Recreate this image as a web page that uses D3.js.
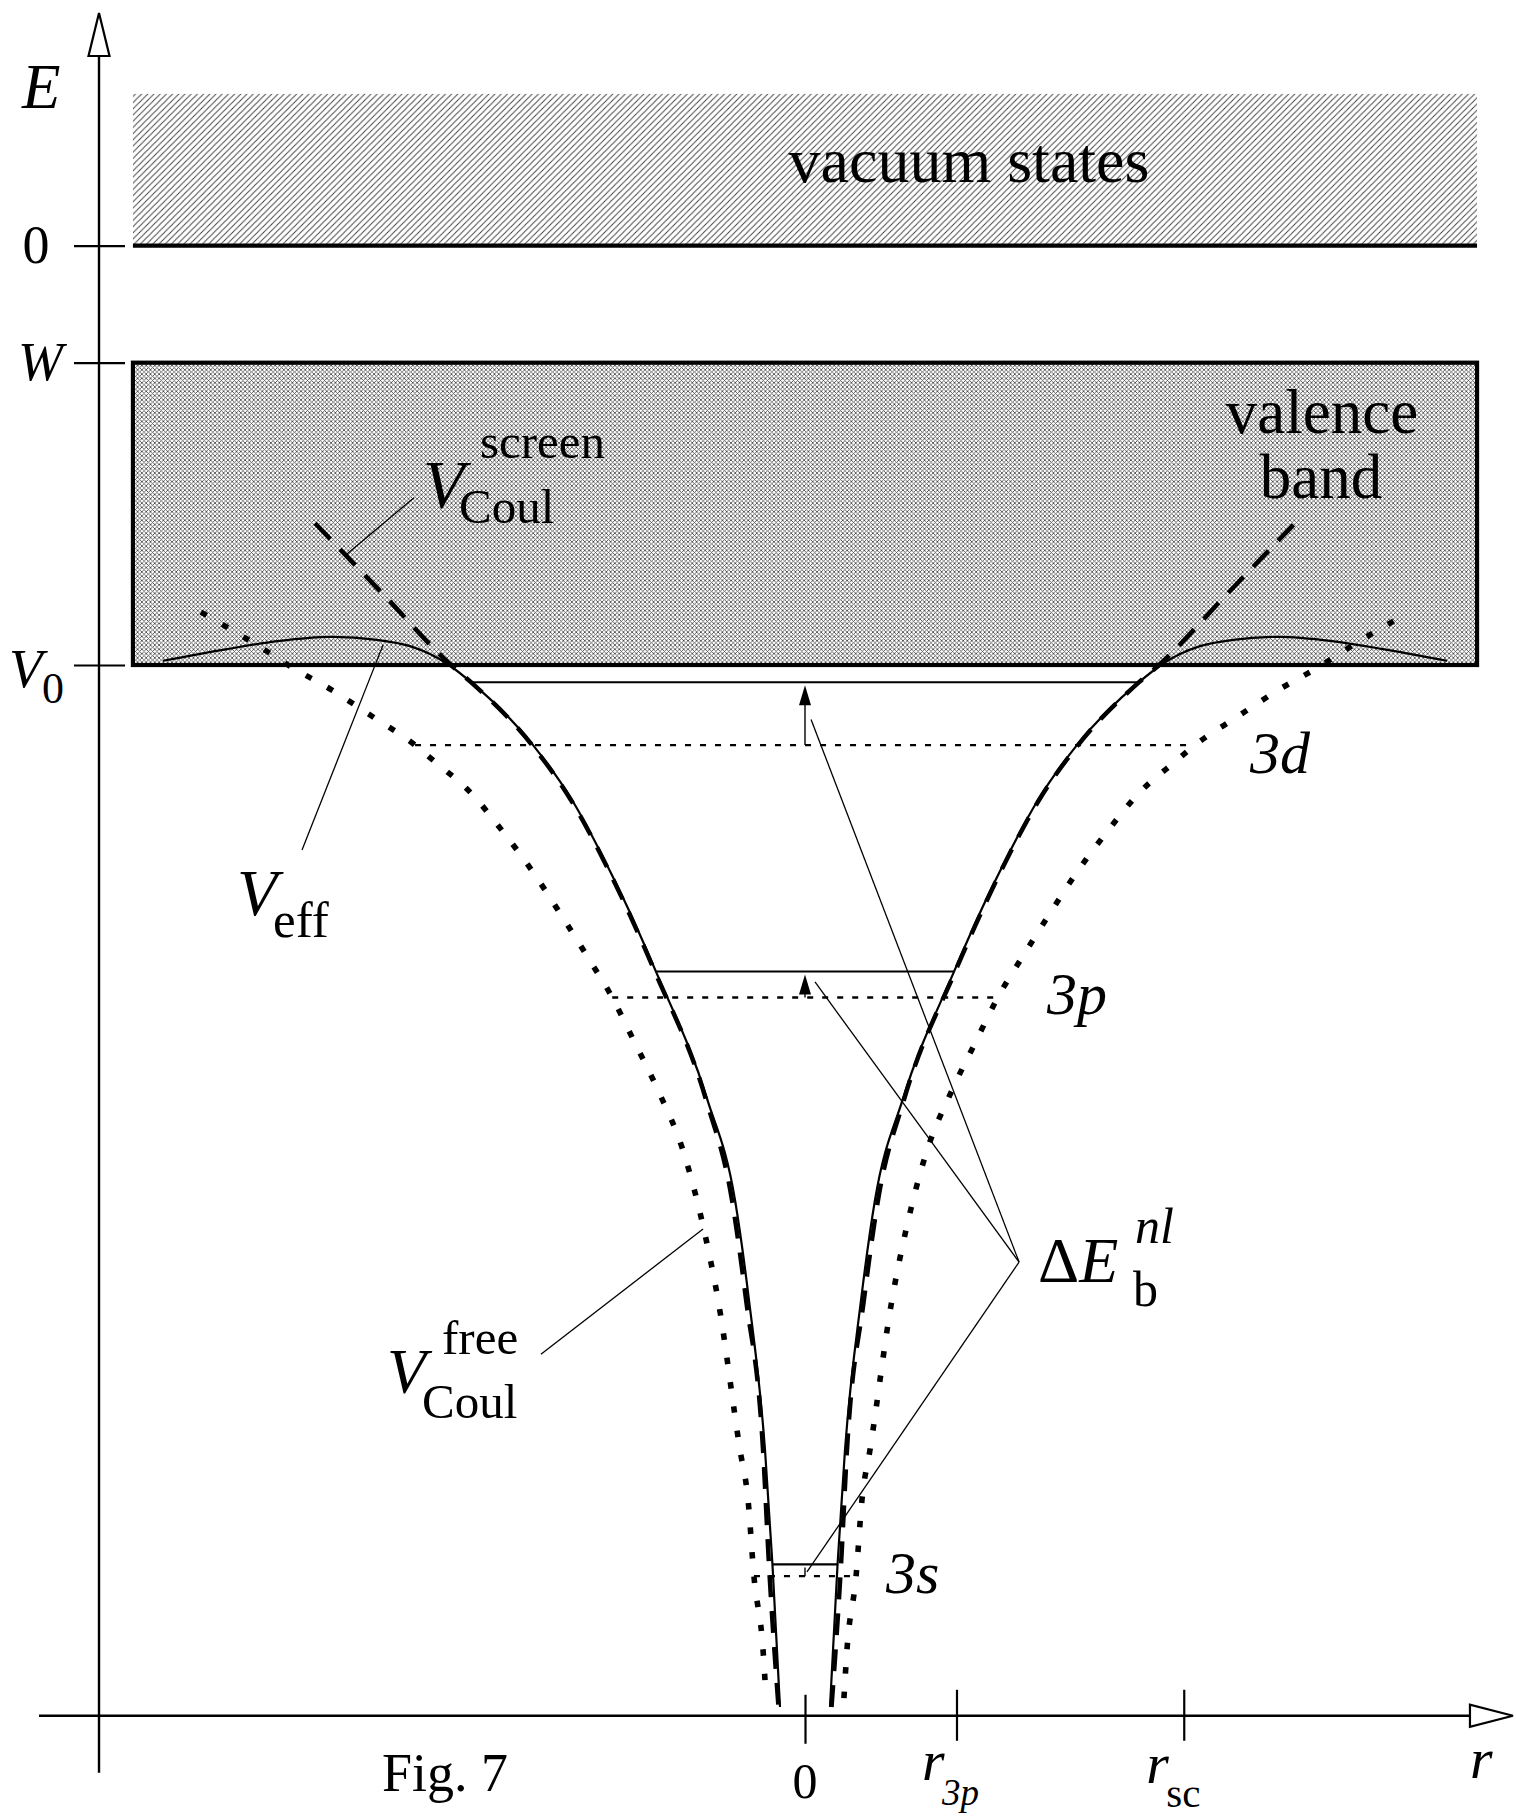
<!DOCTYPE html>
<html>
<head>
<meta charset="utf-8">
<script src="https://cdn.jsdelivr.net/npm/d3@7"></script>
<style>
  html, body { margin: 0; padding: 0; background: #fff; }
  svg { display: block; }
  text { font-family: "Liberation Serif", "Times New Roman", serif; fill: #000; }
</style>
</head>
<body>
<svg id="chart" width="1516" height="1818"></svg>
<script>
// Energies in units of |V0| (vacuum level E = 0), radii in units of r_3p.
const E_W = -0.279;
const E_V0 = -1.0;
const R_3P = 1.0;
const R_SC = 2.5;
const E_VACUUM_TOP = 0.362;
const BAND_HALF_WIDTH = 4.436;

const yTickValues = [0, E_W, E_V0];
const xTickValues = [0, R_3P, R_SC];

// Right-hand branch of each potential as [r, E]; the left branch is its mirror image.
const vEff = [
  [0.165, -3.485], [0.215, -3.144], [0.264, -2.872], [0.370, -2.514],
  [0.462, -2.276], [0.644, -2.037], [0.983, -1.732], [1.195, -1.560],
  [1.281, -1.496], [1.538, -1.322], [1.795, -1.191], [2.205, -1.041],
  [2.350, -1.000], [2.475, -0.974], [2.607, -0.955], [2.825, -0.940],
  [3.122, -0.933], [3.479, -0.943], [3.815, -0.962], [4.238, -0.990]
];
const vCoulScreen = [
  [0.175, -3.485], [0.238, -3.144], [0.277, -2.872], [0.389, -2.514],
  [0.482, -2.276], [0.653, -2.037], [0.990, -1.732], [1.287, -1.496],
  [1.545, -1.322], [1.802, -1.191], [2.205, -1.041], [2.337, -1.000],
  [2.785, -0.831], [3.234, -0.662]
];
const vCoulFree = [
  [0.257, -3.464], [0.277, -3.349], [0.337, -3.173], [0.376, -2.991],
  [0.429, -2.872], [0.574, -2.514], [0.667, -2.347], [0.792, -2.173],
  [0.977, -2.009], [1.122, -1.902], [1.274, -1.792], [1.439, -1.694],
  [1.617, -1.592], [1.795, -1.494], [1.993, -1.398], [2.198, -1.308],
  [2.455, -1.227], [2.574, -1.191], [2.851, -1.124], [3.122, -1.060],
  [3.413, -1.000], [3.545, -0.969], [3.987, -0.874]
];

// Bound levels: energy in the screened and in the free Coulomb potential.
const levelNames = ["3d", "3p", "3s"];
const levelScreen = [-1.041, -1.731, -3.145];
const levelFree = [-1.191, -1.793, -3.173];

// ---------------------------------------------------------------------------
const svg = d3.select("#chart");
const xScale = d3.scaleLinear().domain([0, 1]).range([805, 956.5]);
const yScale = d3.scaleLinear().domain([0, -1]).range([245.7, 665]);

const R_AXIS_POS = -4.660;           // where the E axis stands
const E_AXIS_POS = -3.506;           // where the r axis lies
const R_AXIS_RANGE = [-5.056, 4.673];
const E_AXIS_RANGE = [-3.642, 0.555];

// fill patterns
const defs = svg.append("defs");
const vh = defs.append("pattern").attr("id", "vacHatch")
  .attr("patternUnits", "userSpaceOnUse").attr("width", 6.2).attr("height", 6.2);
vh.append("rect").attr("width", 6.2).attr("height", 6.2).attr("fill", "#fff");
vh.append("path").attr("d", "M-1,1L1,-1M0,6.2L6.2,0M5.2,7.2L7.2,5.2")
  .attr("stroke", "#3a3a3a").attr("stroke-width", 0.9);

const xh = defs.append("pattern").attr("id", "crossHatch")
  .attr("patternUnits", "userSpaceOnUse").attr("width", 4.3).attr("height", 4.3);
xh.append("rect").attr("width", 4.3).attr("height", 4.3).attr("fill", "#fff");
xh.append("path").attr("d", "M-0.5,-0.5L4.8,4.8M-0.5,4.8L4.8,-0.5")
  .attr("stroke", "#444").attr("stroke-width", 0.8);

// vacuum states band and vacuum level
const bx0 = xScale(-BAND_HALF_WIDTH), bx1 = xScale(BAND_HALF_WIDTH);
svg.append("rect")
  .attr("x", bx0).attr("y", yScale(E_VACUUM_TOP))
  .attr("width", bx1 - bx0).attr("height", yScale(0) - yScale(E_VACUUM_TOP))
  .attr("fill", "url(#vacHatch)");
svg.append("line")
  .attr("x1", bx0).attr("x2", bx1).attr("y1", yScale(0)).attr("y2", yScale(0))
  .attr("stroke", "#000").attr("stroke-width", 4.2);

// valence band
svg.append("rect")
  .attr("x", bx0).attr("y", yScale(E_W))
  .attr("width", bx1 - bx0).attr("height", yScale(E_V0) - yScale(E_W))
  .attr("fill", "url(#crossHatch)").attr("stroke", "#000").attr("stroke-width", 4.2);

// axes
const axisX = xScale(R_AXIS_POS);
const axisY = yScale(E_AXIS_POS);

const yAxis = d3.axisLeft(yScale).tickValues(yTickValues).tickFormat("").tickSizeOuter(0);
const gy = svg.append("g").attr("transform", `translate(${axisX},0)`).call(yAxis);
gy.select(".domain").remove();
gy.selectAll(".tick line").attr("x1", -25).attr("x2", 26).attr("stroke-width", 2.2);

const xAxis = d3.axisBottom(xScale).tickValues(xTickValues).tickFormat("").tickSizeOuter(0);
const gx = svg.append("g").attr("transform", `translate(0,${axisY})`).call(xAxis);
gx.select(".domain").remove();
gx.selectAll(".tick line")
  .attr("y1", (d, i) => i === 0 ? -21 : -26)
  .attr("y2", (d, i) => i === 0 ? 28 : 25)
  .attr("stroke-width", 2.2);

const yTip = yScale(E_AXIS_RANGE[1]);
svg.append("line")
  .attr("x1", axisX).attr("x2", axisX)
  .attr("y1", yScale(E_AXIS_RANGE[0])).attr("y2", yTip + 43)
  .attr("stroke", "#000").attr("stroke-width", 2.4);
svg.append("path")
  .attr("d", `M${axisX},${yTip}L${axisX - 10.5},${yTip + 43}L${axisX + 10.5},${yTip + 43}Z`)
  .attr("fill", "#fff").attr("stroke", "#000").attr("stroke-width", 2.2);

const xTip = xScale(R_AXIS_RANGE[1]);
svg.append("line")
  .attr("x1", xScale(R_AXIS_RANGE[0])).attr("x2", xTip - 43)
  .attr("y1", axisY).attr("y2", axisY)
  .attr("stroke", "#000").attr("stroke-width", 2.4);
svg.append("path")
  .attr("d", `M${xTip},${axisY}L${xTip - 43},${axisY - 11}L${xTip - 43},${axisY + 11}Z`)
  .attr("fill", "#fff").attr("stroke", "#000").attr("stroke-width", 2.2);

// potential curves, both branches
const line = d3.line().x(d => xScale(d[0])).y(d => yScale(d[1])).curve(d3.curveMonotoneX);
function branches(pts) {
  const right = pts.slice().sort((a, b) => a[0] - b[0]);
  const left = pts.map(([r, e]) => [-r, e]).sort((a, b) => a[0] - b[0]);
  return [left, right];
}
function drawCurve(pts, style) {
  branches(pts).forEach(b => {
    const p = svg.append("path").attr("d", line(b)).attr("fill", "none")
      .attr("stroke", "#000");
    Object.entries(style).forEach(([k, v]) => p.attr(k, v));
  });
}
drawCurve(vCoulFree, { "stroke-width": 5.6, "stroke-dasharray": "6.5,18" });
drawCurve(vEff, { "stroke-width": 2.2 });
drawCurve(vCoulScreen, { "stroke-width": 4.5, "stroke-dasharray": "22,14" });

// radius at which the well branch of a curve reaches energy e
function radiusAt(pts, e) {
  for (let i = 1; i < pts.length; i++) {
    const [r0, e0] = pts[i - 1], [r1, e1] = pts[i];
    if ((e - e0) * (e - e1) <= 0 && e1 !== e0) return r0 + (r1 - r0) * (e - e0) / (e1 - e0);
  }
  return pts[pts.length - 1][0];
}

// level lines and level shifts
levelNames.forEach((name, i) => {
  const rs = radiusAt(vEff, levelScreen[i]);
  const rf = radiusAt(vCoulFree, levelFree[i]);
  svg.append("line")
    .attr("x1", xScale(-rs)).attr("x2", xScale(rs))
    .attr("y1", yScale(levelScreen[i])).attr("y2", yScale(levelScreen[i]))
    .attr("stroke", "#000").attr("stroke-width", 2.1);
  svg.append("line")
    .attr("x1", xScale(-rf)).attr("x2", xScale(rf))
    .attr("y1", yScale(levelFree[i])).attr("y2", yScale(levelFree[i]))
    .attr("stroke", "#000").attr("stroke-width", 2.4).attr("stroke-dasharray", "6,9");

  const x = xScale(0);
  const yTop = yScale(levelScreen[i]) + 3;
  const yBot = yScale(levelFree[i]);
  const gap = yBot - yTop;
  const head = gap > 18 ? 20 : 0;
  svg.append("line").attr("x1", x).attr("x2", x).attr("y1", yBot).attr("y2", yTop + head * 0.6)
    .attr("stroke", "#000").attr("stroke-width", 1.4);
  if (head) {
    svg.append("path")
      .attr("d", `M${x},${yTop}L${x - 6},${yTop + head}L${x + 6},${yTop + head}Z`)
      .attr("fill", "#000");
  }
});

// leader lines for the labels, as [r, E] end points
const leaders = [
  [[-2.785, -0.952], [-3.320, -1.441]],   // V_eff
  [[-2.581, -0.601], [-3.023, -0.735]],   // V_Coul^screen
  [[-0.673, -2.345], [-1.743, -2.644]],   // V_Coul^free
  [[0.040, -1.130], [1.413, -2.424]],     // Delta E (3d)
  [[0.066, -1.756], [1.413, -2.424]],     // Delta E (3p)
  [[0.013, -3.163], [1.413, -2.424]]      // Delta E (3s)
];
leaders.forEach(([a, b]) => {
  svg.append("line")
    .attr("x1", xScale(a[0])).attr("y1", yScale(a[1]))
    .attr("x2", xScale(b[0])).attr("y2", yScale(b[1]))
    .attr("stroke", "#000").attr("stroke-width", 1.3);
});

// text
function addLabel(x0, y0, parts, anchor) {
  const t = svg.append("text").attr("x", x0).attr("y", y0);
  if (anchor) t.attr("text-anchor", anchor);
  parts.forEach(p => {
    const s = t.append("tspan").text(p.t).style("font-size", p.size + "px");
    if (p.italic) s.style("font-style", "italic");
    if (p.off) s.attr("x", x0 + p.off[0]).attr("y", y0 + p.off[1]);
  });
  return t;
}
const at = (r, e) => [xScale(r), yScale(e)];

// axis titles and tick labels
addLabel(...at(-5.168, 0.3284), [{ t: "E", size: 63, italic: true }]);
addLabel(...at(4.389, -3.654), [{ t: "r", size: 58, italic: true }]);

addLabel(axisX - 63, yScale(0) + 17.5, [{ t: "0", size: 54 }], "middle");
addLabel(axisX - 81, yScale(E_W) + 17.5, [{ t: "W", size: 54, italic: true }]);
addLabel(axisX - 90, yScale(E_V0) + 22, [
  { t: "V", size: 55, italic: true },
  { t: "0", size: 44, off: [33, 16] }
]);

addLabel(xScale(0), axisY + 82, [{ t: "0", size: 50 }], "middle");
addLabel(xScale(R_3P) - 34.5, axisY + 64, [
  { t: "r", size: 58, italic: true },
  { t: "3p", size: 37, italic: true, off: [20, 25] }
]);
addLabel(xScale(R_SC) - 37.5, axisY + 67, [
  { t: "r", size: 58, italic: true },
  { t: "sc", size: 41, off: [20, 24] }
]);
addLabel(...at(-2.792, -3.685), [{ t: "Fig. 7", size: 54 }]);

// band labels
addLabel(...at(1.0825, 0.1519), [{ t: "vacuum states", size: 64 }], "middle");
addLabel(...at(3.4125, -0.4467), [{ t: "valence", size: 63 }], "middle");
addLabel(...at(3.406, -0.6017), [{ t: "band", size: 63 }], "middle");

// potential labels
addLabel(...at(-2.5215, -0.6232), [
  { t: "V", size: 68, italic: true },
  { t: "screen", size: 49, off: [57, -49] },
  { t: "Coul", size: 49, off: [36, 16] }
]);
addLabel(...at(-3.749, -1.596), [
  { t: "V", size: 66, italic: true },
  { t: "eff", size: 51, off: [36, 22] }
]);
addLabel(...at(-2.759, -2.736), [
  { t: "V", size: 64, italic: true },
  { t: "free", size: 49, off: [55, -39] },
  { t: "Coul", size: 49, off: [35, 25] }
]);
addLabel(...at(1.538, -2.471), [
  { t: "\u0394", size: 64 },
  { t: "E", size: 64, italic: true },
  { t: "nl", size: 50, italic: true, off: [97, -39] },
  { t: "b", size: 50, off: [95, 24] }
]);

// level labels
const levelLabelPos = [[2.937, -1.2574], [1.597, -1.8323], [0.5347, -3.2132]];
levelNames.forEach((name, i) => {
  addLabel(...at(...levelLabelPos[i]), [{ t: name, size: 60, italic: true }]);
});
</script>
</body>
</html>
